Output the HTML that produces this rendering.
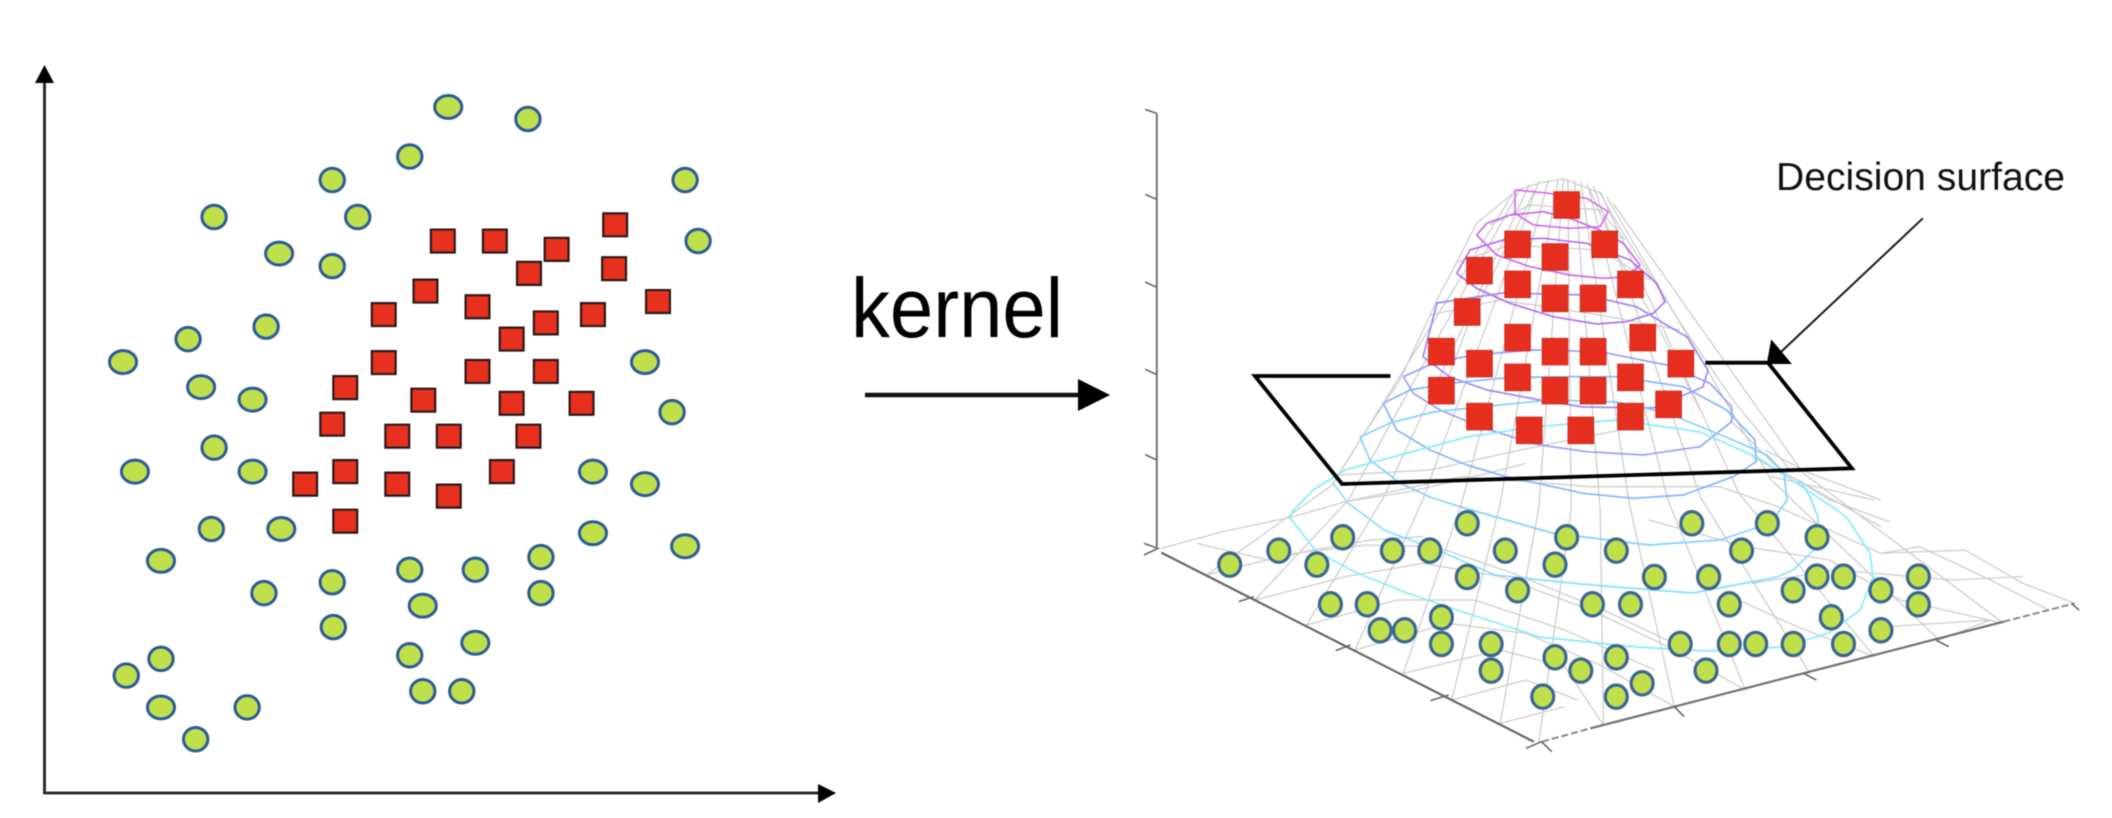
<!DOCTYPE html>
<html lang="en"><head><meta charset="utf-8"><title>Kernel decision surface</title>
<style>
html,body{margin:0;padding:0;background:#fff;width:2112px;height:818px;overflow:hidden}
svg{display:block;filter:blur(.6px)}
*{vector-effect:non-scaling-stroke}
.m{fill:none;stroke:#cdcdcd;stroke-width:1.3}
.e{fill:none;stroke-width:1.7;stroke-linejoin:round}
</style></head><body>
<svg width="2112" height="818" viewBox="0 0 2112 818" xmlns="http://www.w3.org/2000/svg">
<defs>
<ellipse id="c1" rx="22.5" ry="22.5" fill="#bfe04a" stroke="#2c5a9a" stroke-width="3"/>
<ellipse id="c3" rx="25" ry="22" fill="#bfe04a" stroke="#2c5a9a" stroke-width="3"/>
<rect id="s1" x="-22" y="-22" width="44" height="44" fill="#e8301f" stroke="#2a1a18" stroke-width="2.2"/>
<ellipse id="c2" rx="17" ry="35" fill="#bfe04a" stroke="#3b6596" stroke-width="3.2"/>
<rect id="s2" x="-20" y="-40" width="40" height="80" fill="#e62e1f" stroke="#c62a1e" stroke-width=".8"/>
</defs>

<!-- left scatter -->
<path d="M44.5 80V793H822" fill="none" stroke="#222" stroke-width="2.8"/>
<path d="M44.5 65L35 83H54Z M836 793L818 784V803Z" fill="#000"/>
<g transform="scale(.542,.5217)">
<use href="#c3" x="827" y="205"/><use href="#c1" x="974" y="228"/><use href="#c1" x="756" y="300"/><use href="#c1" x="613" y="345"/><use href="#c1" x="1264" y="345"/><use href="#c1" x="395" y="416"/><use href="#c1" x="660" y="416"/><use href="#c3" x="515" y="486"/><use href="#c1" x="613" y="510"/><use href="#c1" x="1288" y="462"/><use href="#c1" x="491" y="626"/><use href="#c1" x="347" y="650"/><use href="#c3" x="227" y="694"/><use href="#c3" x="1190" y="694"/><use href="#c3" x="371" y="742"/><use href="#c3" x="466" y="766"/><use href="#c1" x="1240" y="790"/><use href="#c1" x="395" y="858"/><use href="#c3" x="249" y="904"/><use href="#c3" x="466" y="904"/><use href="#c3" x="1094" y="904"/><use href="#c3" x="1190" y="928"/><use href="#c1" x="390" y="1014"/><use href="#c3" x="519" y="1014"/><use href="#c3" x="1094" y="1022"/><use href="#c3" x="1264" y="1047"/><use href="#c3" x="297" y="1075"/><use href="#c1" x="998" y="1068"/><use href="#c1" x="756" y="1092"/><use href="#c1" x="877" y="1092"/><use href="#c1" x="613" y="1116"/><use href="#c1" x="487" y="1137"/><use href="#c1" x="998" y="1137"/><use href="#c3" x="780" y="1161"/><use href="#c1" x="615" y="1202"/><use href="#c3" x="877" y="1232"/><use href="#c1" x="756" y="1256"/><use href="#c1" x="297" y="1263"/><use href="#c1" x="233" y="1295"/><use href="#c1" x="780" y="1325"/><use href="#c1" x="852" y="1325"/><use href="#c3" x="297" y="1356"/><use href="#c1" x="456" y="1356"/><use href="#c1" x="361" y="1417"/>
<use href="#s1" x="817" y="462"/><use href="#s1" x="913" y="462"/><use href="#s1" x="1135" y="431"/><use href="#s1" x="1027" y="478"/><use href="#s1" x="976" y="524"/><use href="#s1" x="1133" y="515"/><use href="#s1" x="785" y="558"/><use href="#s1" x="708" y="603"/><use href="#s1" x="881" y="588"/><use href="#s1" x="1094" y="603"/><use href="#s1" x="1214" y="578"/><use href="#s1" x="1007" y="619"/><use href="#s1" x="944" y="650"/><use href="#s1" x="708" y="695"/><use href="#s1" x="881" y="712"/><use href="#s1" x="1007" y="712"/><use href="#s1" x="637" y="743"/><use href="#s1" x="781" y="767"/><use href="#s1" x="944" y="773"/><use href="#s1" x="1073" y="773"/><use href="#s1" x="613" y="813"/><use href="#s1" x="733" y="836"/><use href="#s1" x="828" y="836"/><use href="#s1" x="975" y="836"/><use href="#s1" x="637" y="904"/><use href="#s1" x="926" y="904"/><use href="#s1" x="563" y="928"/><use href="#s1" x="733" y="928"/><use href="#s1" x="828" y="951"/><use href="#s1" x="637" y="999"/>
</g>

<!-- kernel arrow -->
<text x="851" y="337" font-family="'Liberation Sans',sans-serif" font-size="84" textLength="212" lengthAdjust="spacingAndGlyphs" fill="#000">kernel</text>
<path d="M865 395H1082" stroke="#111" stroke-width="4.5"/>
<path d="M1078 379L1110 395L1078 411Z" fill="#000"/>

<!-- mesh silhouette and rings, real pixel coordinates -->
<g class="m">
<polyline points="1517,190 1540,183 1563,179 1600,193 1623,233 1655,283 1687,333 1733,400 1790,470"/>
<polyline points="1517,190 1477,223 1437,300 1400,380 1360,440 1332,485"/>
<polyline points="1490,225 1530,205 1600,210 1625,240"/>
<polyline points="1458,262 1510,245 1600,250 1650,280"/>
<polyline points="1430,315 1500,300 1600,315 1680,330"/>
<polyline points="1535,190 1510,240 1470,320 1440,400"/>
<polyline points="1590,190 1620,260 1660,330 1700,410"/>
<polyline points="1340,475 1430,470 1520,450 1620,430"/>
<polyline points="1730,420 1780,470 1830,500 1890,522"/>
</g>

<!-- right 3D plot, coordinates: x from (1100), y from (80), scaled -->
<g transform="translate(1100,80) scale(.6454,.33333)">
<g class="m">
<polyline points="165,1485 360,1215 640,340"/>
<polyline points="240,1560 385,1260 650,330"/>
<polyline points="320,1635 440,1250 665,315"/>
<polyline points="395,1710 500,1260 680,305"/>
<polyline points="470,1780 560,1270 695,300"/>
<polyline points="545,1860 620,1270 710,297"/>
<polyline points="620,1930 680,1280 718,297"/>
<polyline points="680,1985 730,1290 725,297"/>
<polyline points="780,1935 775,1290 735,300"/>
<polyline points="890,1880 820,1270 745,305"/>
<polyline points="1000,1830 880,1260 755,310"/>
<polyline points="1100,1780 930,1250 765,320"/>
<polyline points="1200,1730 990,1240 775,335"/>
<polyline points="1300,1680 1040,1200 785,350"/>
<polyline points="1400,1630 1090,1180 795,370"/>
<polyline points="95,1405 190,1355 300,1310 380,1265 480,1235 600,1180 660,1150"/>
<polyline points="150,1390 260,1440 330,1410 420,1380 500,1370"/>
<polyline points="165,1485 300,1420 410,1395 520,1400 640,1480 780,1590 900,1700"/>
<polyline points="240,1560 380,1490 500,1450 620,1490 760,1590 880,1700 1000,1830"/>
<polyline points="320,1635 460,1560 580,1560 720,1650 860,1770"/>
<polyline points="395,1710 540,1630 660,1660 780,1760 890,1880"/>
<polyline points="470,1780 620,1710 720,1760 780,1935"/>
<polyline points="545,1860 660,1800 740,1860"/>
<polyline points="620,1930 720,1880"/>
<polyline points="1030,1110 1100,1180 1210,1260"/>
<polyline points="1010,1130 1090,1210 1210,1340"/>
<polyline points="1040,1190 1200,1260"/>
<polyline points="960,1220 1050,1280 1210,1420"/>
<polyline points="1210,1420 1340,1410 1430,1510 1510,1570"/>
<polyline points="1210,1420 1270,1400 1380,1500 1470,1590"/>
<polyline points="1130,1440 1240,1560 1400,1630"/>
<polyline points="1010,1510 1140,1470 1320,1500 1430,1490"/>
<polyline points="990,1560 1080,1640 1200,1730"/>
<polyline points="1220,1640 1380,1620 1300,1680"/>
<polyline points="850,1320 1000,1400 1130,1440"/>
<polyline points="380,1265 560,1190 760,1220 960,1220"/>
</g>
</g>

<!-- contours -->
<g transform="translate(1370,160) scale(.33333)">
<polyline class="e" stroke="#d66cec" points="435,90 520,98 650,115 715,155 690,200 600,205 490,195 435,160 435,90"/>
<polyline class="e" stroke="#c868ec" points="320,225 350,190 420,165 520,155 600,175 700,215 760,250 810,315 770,350 700,355 600,345 480,320 380,285 320,225"/>
<polyline class="e" stroke="#b070f0" points="260,340 300,270 400,240 520,235 650,250 780,300 860,370 885,425 850,460 770,485 680,492 550,470 420,430 320,385 260,340"/>
</g>
<polyline class="e" stroke="#a088f4" points="1423,357 1437,303 1503,293 1587,295 1637,307 1670,327 1687,337 1708,370 1703,387 1653,408 1583,407 1540,400 1487,390 1450,377 1423,357"/>
<g transform="translate(1300,340) scale(.33333)">
<polyline class="e" stroke="#9aa0f8" points="310,110 340,160 420,210 540,260 650,295 720,315 860,335 1030,345 1200,320 1295,245 1295,200 1230,130 1100,75 900,35 700,30 520,45 400,70 310,110"/>
<polyline class="e" stroke="#85b4fb" points="250,190 290,270 390,330 500,375 620,410 850,460 1000,475 1150,465 1300,410 1368,365 1365,300 1280,210 1150,140 950,110 760,110 600,115 450,130 330,150 250,190"/>
</g>
<polyline class="e" stroke="#84cffc" points="1360,437 1370,460 1400,483 1430,497 1461,507 1552,533 1649,545 1720,540 1771,523 1787,500 1784,473 1767,455 1733,440 1667,413 1617,402 1550,400 1500,405 1433,412 1390,423 1360,437"/>
<polyline class="e" stroke="#86e0fc" points="1333,483 1348,503 1384,530 1442,552 1495,575 1560,582 1593,585 1653,590 1693,593 1777,577 1793,570 1817,547 1818,517 1810,497 1800,480"/>
<polyline class="e" stroke="#86ecfa" stroke-width="2" points="1292,512 1290,518 1317,552 1357,573 1407,593 1457,610 1540,637 1636,647 1707,651 1784,647 1829,633 1860,610 1873,577 1870,553 1847,518 1837,510 1787,477 1757,457 1700,432 1617,420 1533,427 1467,437 1400,455 1345,470 1313,490 1292,512"/>

<g transform="translate(1100,80) scale(.6454,.33333)">
<!-- z axis -->
<path d="M88 100V1400" fill="none" stroke="#666" stroke-width="1.8"/>
<path d="M70 88L88 100M70 343L88 358M70 606L88 622M70 868L88 884M70 1124L88 1140M68 1390L90 1405L68 1425" fill="none" stroke="#666" stroke-width="1.6"/>
<!-- base axes -->
<path d="M95 1418L672 1985" fill="none" stroke="#666" stroke-width="2.2"/>
<path d="M760 1945L1400 1625" fill="none" stroke="#707070" stroke-width="2.2"/>
<path d="M685 1985L760 1945M1400 1625L1510 1570" fill="none" stroke="#888" stroke-width="2" stroke-dasharray="7 3"/>
<path d="M215 1565L238 1550M365 1712L388 1695M512 1862L540 1845M660 2005L684 1985L700 2015M890 1880L905 1910M1090 1780L1110 1800M1295 1680L1315 1700M1505 1570L1517 1590" fill="none" stroke="#666" stroke-width="1.6"/>

<!-- plane -->
<path d="M450 888H240L375 1212L1165 1165L1035 848H938" fill="none" stroke="#000" stroke-width="3.8" stroke-linejoin="miter"/>
<!-- pointer -->
<path d="M1275 415L1050 825" fill="none" stroke="#1a1a1a" stroke-width="2"/>
<path d="M1040 778L1072 852H1033Z" fill="#000"/>

<!-- red squares -->
<use href="#s2" x="723" y="375"/><use href="#s2" x="647" y="493"/><use href="#s2" x="782" y="493"/><use href="#s2" x="705" y="531"/><use href="#s2" x="588" y="572"/><use href="#s2" x="647" y="613"/><use href="#s2" x="822" y="613"/><use href="#s2" x="705" y="655"/><use href="#s2" x="764" y="655"/><use href="#s2" x="569" y="696"/><use href="#s2" x="647" y="773"/><use href="#s2" x="841" y="773"/><use href="#s2" x="529" y="815"/><use href="#s2" x="705" y="815"/><use href="#s2" x="764" y="815"/><use href="#s2" x="588" y="851"/><use href="#s2" x="900" y="851"/><use href="#s2" x="647" y="892"/><use href="#s2" x="822" y="892"/><use href="#s2" x="529" y="932"/><use href="#s2" x="705" y="932"/><use href="#s2" x="764" y="932"/><use href="#s2" x="881" y="973"/><use href="#s2" x="588" y="1010"/><use href="#s2" x="822" y="1010"/><use href="#s2" x="665" y="1051"/><use href="#s2" x="745" y="1051"/>

<!-- green circles (y offset 1080) -->
<g transform="translate(0,1080)">
<use href="#c2" x="569" y="250"/><use href="#c2" x="917" y="250"/><use href="#c2" x="1034" y="250"/><use href="#c2" x="376" y="292"/><use href="#c2" x="723" y="292"/><use href="#c2" x="1111" y="292"/><use href="#c2" x="277" y="332"/><use href="#c2" x="453" y="332"/><use href="#c2" x="511" y="332"/><use href="#c2" x="628" y="332"/><use href="#c2" x="800" y="332"/><use href="#c2" x="994" y="332"/><use href="#c2" x="201" y="374"/><use href="#c2" x="336" y="374"/><use href="#c2" x="705" y="374"/><use href="#c2" x="569" y="411"/><use href="#c2" x="859" y="411"/><use href="#c2" x="943" y="411"/><use href="#c2" x="1111" y="410"/><use href="#c2" x="1152" y="410"/><use href="#c2" x="1268" y="410"/><use href="#c2" x="647" y="451"/><use href="#c2" x="1074" y="451"/><use href="#c2" x="1210" y="451"/><use href="#c2" x="357" y="493"/><use href="#c2" x="414" y="493"/><use href="#c2" x="763" y="493"/><use href="#c2" x="822" y="493"/><use href="#c2" x="975" y="493"/><use href="#c2" x="1268" y="493"/><use href="#c2" x="529" y="532"/><use href="#c2" x="1133" y="532"/><use href="#c2" x="434" y="571"/><use href="#c2" x="472" y="571"/><use href="#c2" x="1210" y="571"/><use href="#c2" x="529" y="612"/><use href="#c2" x="606" y="612"/><use href="#c2" x="899" y="612"/><use href="#c2" x="975" y="612"/><use href="#c2" x="1016" y="612"/><use href="#c2" x="1074" y="612"/><use href="#c2" x="1152" y="612"/><use href="#c2" x="705" y="652"/><use href="#c2" x="800" y="652"/><use href="#c2" x="606" y="692"/><use href="#c2" x="745" y="692"/><use href="#c2" x="939" y="692"/><use href="#c2" x="840" y="730"/><use href="#c2" x="686" y="770"/><use href="#c2" x="800" y="770"/>
</g>
</g>

<text x="1776" y="190" font-family="'Liberation Sans',sans-serif" font-size="39" textLength="289" lengthAdjust="spacingAndGlyphs" fill="#111">Decision surface</text>
</svg>
</body></html>
